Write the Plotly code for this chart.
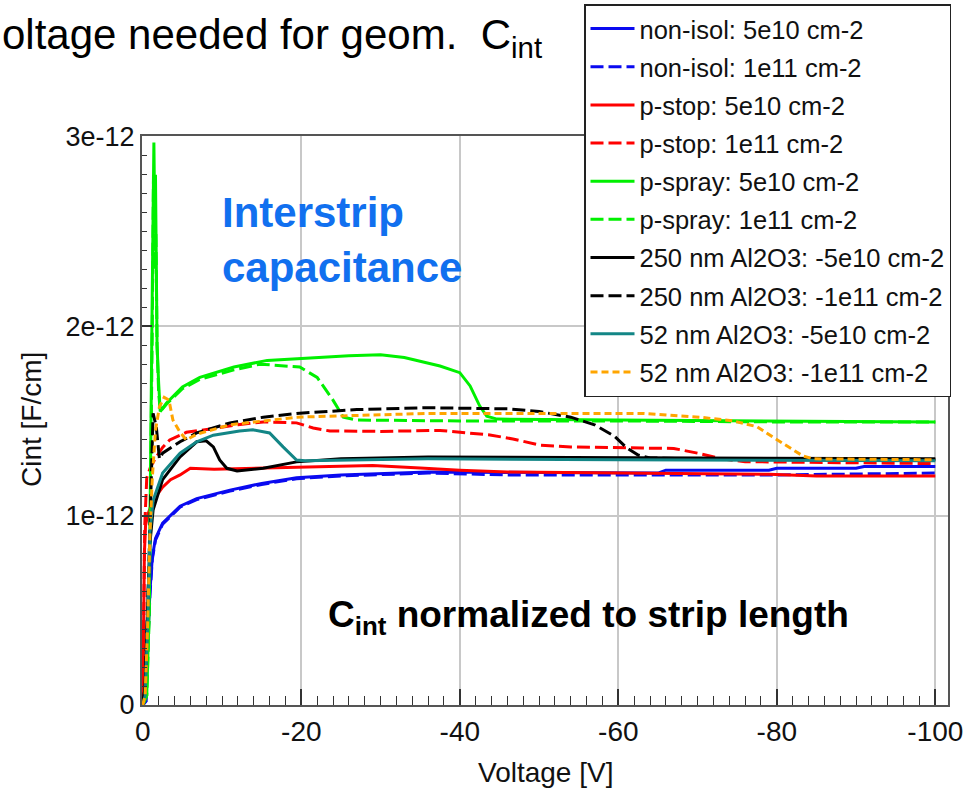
import plotly.graph_objects as go

SCALE = 1e-12  # values below are in units of 1e-12 F/cm

# ---- series data (voltage in V, capacitance in 1e-12 F/cm) ----
v_nonisol_5e10 = [0, -0.4, -0.6, -0.9, -1.2, -1.6, -2.5, -4.7, -6.8, -11, -15, -19.4, -25, -36, -50, -60, -65, -66, -79, -80, -90, -91, -100]
c_nonisol_5e10 = [0, 0.02, 0.3, 0.6, 0.78, 0.88, 0.96, 1.05, 1.09, 1.135, 1.17, 1.20, 1.215, 1.23, 1.228, 1.225, 1.225, 1.24, 1.24, 1.25, 1.25, 1.26, 1.26]

v_nonisol_1e11 = [0, -0.4, -0.6, -0.9, -1.2, -1.6, -2.5, -4.7, -6.8, -11, -15, -19.4, -25, -36, -46, -60, -80, -100]
c_nonisol_1e11 = [0, 0.02, 0.28, 0.58, 0.77, 0.87, 0.955, 1.045, 1.085, 1.13, 1.165, 1.195, 1.21, 1.225, 1.215, 1.215, 1.215, 1.225]

v_pstop_5e10 = [0, -0.1, -0.2, -0.35, -0.6, -1.0, -1.3, -2.5, -3.5, -4.7, -6, -9, -15, -20, -24, -29, -35, -40, -46, -52, -58, -67, -79, -85, -100]
c_pstop_5e10 = [0, 0.4, 0.8, 0.95, 1.0, 1.05, 1.08, 1.15, 1.19, 1.215, 1.25, 1.245, 1.25, 1.255, 1.26, 1.265, 1.252, 1.24, 1.23, 1.228, 1.225, 1.22, 1.218, 1.21, 1.21]

v_pstop_1e11 = [0, -0.1, -0.25, -0.5, -1.0, -1.7, -2.5, -3.4, -5.5, -8.9, -12, -15.2, -19.4, -21.5, -23.6, -30, -37.5, -43.8, -46.7, -50, -54, -63, -67, -70, -73, -76, -85, -100]
c_pstop_1e11 = [0, 0.5, 0.95, 1.2, 1.26, 1.31, 1.36, 1.40, 1.44, 1.46, 1.48, 1.495, 1.49, 1.463, 1.447, 1.445, 1.45, 1.426, 1.405, 1.373, 1.363, 1.357, 1.355, 1.33, 1.30, 1.285, 1.28, 1.275]

v_pspray_5e10 = [0, -0.5, -0.8, -1.0, -1.2, -1.4, -1.5, -1.6, -1.7, -1.8, -2.0, -2.2, -3, -5, -7.2, -11.5, -15.7, -19.8, -26, -30, -33, -37.5, -40, -41.3, -42.5, -43.4, -44.7, -60, -80, -100]
c_pspray_5e10 = [0, 0.05, 0.5, 1.2, 2.2, 2.97, 2.6, 2.8, 2.2, 1.9, 1.7, 1.55, 1.595, 1.68, 1.73, 1.785, 1.82, 1.83, 1.845, 1.85, 1.835, 1.79, 1.755, 1.685, 1.58, 1.525, 1.51, 1.505, 1.50, 1.495]

v_pspray_1e11 = [0, -0.5, -0.8, -1.0, -1.2, -1.35, -1.5, -1.65, -1.8, -2.0, -2.2, -3, -5, -7.2, -11.5, -14.8, -19.8, -22, -24, -25.3, -27, -40, -60, -80, -100]
c_pspray_1e11 = [0, 0.05, 0.45, 1.1, 2.0, 2.8, 2.3, 2.5, 1.9, 1.65, 1.55, 1.59, 1.67, 1.72, 1.77, 1.80, 1.785, 1.73, 1.61, 1.52, 1.505, 1.50, 1.50, 1.495, 1.495]

v_al250_5e10 = [0, -0.3, -0.6, -0.9, -1.3, -2.5, -4.7, -6.8, -8, -8.9, -9.7, -10.6, -11.9, -15.2, -19.4, -25, -36, -60, -100]
c_al250_5e10 = [0, 0.1, 0.5, 0.855, 1.03, 1.19, 1.31, 1.39, 1.395, 1.363, 1.294, 1.25, 1.236, 1.25, 1.284, 1.30, 1.31, 1.305, 1.30]

v_al250_1e11 = [0, -0.3, -0.6, -0.9, -1.1, -1.3, -1.7, -2.1, -2.5, -4.7, -6.8, -11, -15.2, -19.4, -27, -36, -46, -50, -54, -57, -59.5, -61, -62.5, -64, -70, -100]
c_al250_1e11 = [0, 0.1, 0.5, 0.95, 1.3, 1.54, 1.47, 1.30, 1.33, 1.39, 1.437, 1.49, 1.52, 1.54, 1.56, 1.57, 1.564, 1.55, 1.52, 1.48, 1.42, 1.36, 1.32, 1.305, 1.30, 1.295]

v_al52_5e10 = [0, -0.3, -0.6, -0.9, -1.3, -2.5, -4.7, -6.8, -8.9, -12.2, -13.9, -16, -17.7, -19.4, -20.5, -36, -60, -100]
c_al52_5e10 = [0, 0.05, 0.4, 0.91, 1.08, 1.225, 1.33, 1.39, 1.425, 1.447, 1.453, 1.437, 1.363, 1.294, 1.29, 1.30, 1.295, 1.29]

v_al52_1e11 = [0, -0.3, -0.6, -0.9, -1.2, -1.6, -2.1, -2.7, -3.3, -3.8, -4.7, -5.5, -6.8, -11, -19.4, -36, -63, -70.3, -74.5, -77.5, -79.5, -81.7, -83.3, -84.6, -100]
c_al52_1e11 = [0, 0.05, 0.4, 0.9, 1.2, 1.45, 1.575, 1.625, 1.61, 1.505, 1.44, 1.40, 1.43, 1.48, 1.52, 1.54, 1.54, 1.52, 1.50, 1.47, 1.415, 1.357, 1.315, 1.30, 1.295]

series_names = [
    "non-isol: 5e10 cm-2", "non-isol: 1e11 cm-2",
    "p-stop: 5e10 cm-2", "p-stop: 1e11 cm-2",
    "p-spray: 5e10 cm-2", "p-spray: 1e11 cm-2",
    "250 nm Al2O3: -5e10 cm-2", "250 nm Al2O3: -1e11 cm-2",
    "52 nm Al2O3: -5e10 cm-2", "52 nm Al2O3: -1e11 cm-2",
]

x_tick_vals = [0, -20, -40, -60, -80, -100]
x_tick_text = ["0", "-20", "-40", "-60", "-80", "-100"]
y_tick_vals = [0, 1, 2, 3]
y_tick_text = ["0", "1e-12", "2e-12", "3e-12"]

FONT = "Liberation Sans, Arial, sans-serif"

series = [
    (v_nonisol_5e10, c_nonisol_5e10, "#0a0af0", "solid"),
    (v_nonisol_1e11, c_nonisol_1e11, "#0a0af0", "13px,5px"),
    (v_pstop_5e10, c_pstop_5e10, "#ff0000", "solid"),
    (v_pstop_1e11, c_pstop_1e11, "#ff0000", "13px,5px"),
    (v_pspray_5e10, c_pspray_5e10, "#00f000", "solid"),
    (v_pspray_1e11, c_pspray_1e11, "#00f000", "13px,5px"),
    (v_al250_5e10, c_al250_5e10, "#000000", "solid"),
    (v_al250_1e11, c_al250_1e11, "#000000", "13px,5px"),
    (v_al52_5e10, c_al52_5e10, "#138686", "solid"),
    (v_al52_1e11, c_al52_1e11, "#ffa500", "7px,4px"),
]

fig = go.Figure()
for i, ((vx, cy, col, dash), name) in enumerate(zip(series, series_names)):
    fig.add_trace(go.Scatter(
        x=vx, y=[c * SCALE for c in cy], mode="lines", name=name,
        line=dict(color=col, width=3, dash=dash),
        legendgroup=f"g{i}",
    ))

fig.update_layout(
    width=971, height=793,
    margin=dict(l=142, r=23, t=136, b=88, autoexpand=False),
    paper_bgcolor="white", plot_bgcolor="white",
    font=dict(family=FONT, color="#111"),
    showlegend=True,
    legend=dict(
        x=(584 - 142) / 806, y=(705 - 4) / 569, xanchor="left", yanchor="top",
        bgcolor="white", bordercolor="#222", borderwidth=1.5,
        font=dict(size=25.5, family=FONT, color="#111"),
        tracegroupgap=2, itemwidth=44,
    ),
    xaxis=dict(
        range=[0.1, -101.6], tickmode="array", tickvals=x_tick_vals, ticktext=x_tick_text,
        ticks="inside", ticklen=16, tickwidth=1.5, tickcolor="#333",
        minor=dict(tickmode="linear", tick0=0, dtick=2, ticks="inside", ticklen=9,
                   tickwidth=1, tickcolor="#333", showgrid=False),
        showgrid=True, gridcolor="#c8c8c8", gridwidth=1.5, automargin=False,
        showline=True, linecolor="#555", linewidth=2, mirror=True, zeroline=False,
        tickfont=dict(size=28, family=FONT, color="#111"),
    ),
    yaxis=dict(
        range=[0, 3.005 * SCALE], tickmode="array", tickvals=[v * SCALE for v in y_tick_vals],
        ticktext=y_tick_text,
        ticks="inside", ticklen=10, tickwidth=1.5, tickcolor="#333",
        minor=dict(tickmode="linear", tick0=0, dtick=0.1 * SCALE, ticks="inside", ticklen=5,
                   tickwidth=1, tickcolor="#333", showgrid=False),
        showgrid=True, gridcolor="#c8c8c8", gridwidth=1.5, automargin=False,
        showline=True, linecolor="#555", linewidth=2, mirror=True, zeroline=False,
        tickfont=dict(size=27, family=FONT, color="#111"),
    ),
)

def px(X):
    return (X - 142) / 806

def py(Y):
    return (705 - Y) / 569

annotations = [
    dict(text="oltage needed for geom.  C<sub>int</sub>", x=px(0), y=py(38),
         xanchor="left", yanchor="middle", font=dict(size=42, family=FONT, color="#000")),
    dict(text="<b>Interstrip<br>capacitance</b>", x=px(220), y=py(240), align="left",
         xanchor="left", yanchor="middle", font=dict(size=42, family=FONT, color="#1170ef")),
    dict(text="<b>C<sub>int</sub> normalized to strip length</b>", x=px(326), y=py(617),
         xanchor="left", yanchor="middle", font=dict(size=37, family=FONT, color="#000")),
    dict(text="Voltage [V]", x=px(545), y=py(772), xanchor="center", yanchor="middle",
         font=dict(size=28, family=FONT, color="#111")),
    dict(text="Cint [F/cm]", x=px(31), y=py(420), xanchor="center", yanchor="middle",
         textangle=-90, font=dict(size=28, family=FONT, color="#111")),
]
for a in annotations:
    a.update(xref="paper", yref="paper", showarrow=False)
fig.update_layout(annotations=annotations)

fig.write_html("out.html")
